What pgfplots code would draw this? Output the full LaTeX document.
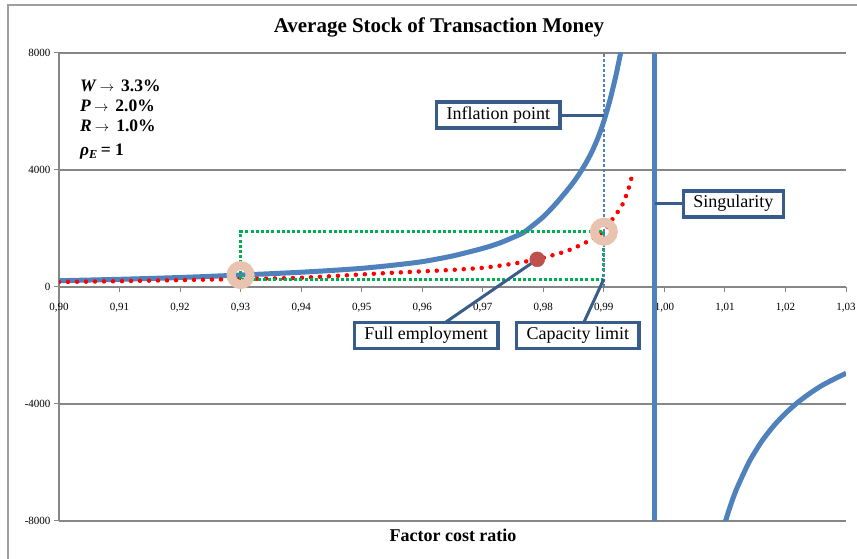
\documentclass[border=0pt]{standalone}
\usepackage{pgfplots}
\pgfplotsset{compat=1.18}
\usepackage{fontspec}
\setmainfont{Liberation Serif}
\definecolor{xblue}{RGB}{79,129,189}
\definecolor{xdark}{RGB}{56,93,138}
\definecolor{xgreen}{RGB}{0,176,80}
\definecolor{xred}{RGB}{192,80,77}
\definecolor{xgrid}{RGB}{134,134,134}
\definecolor{xring}{RGB}{232,196,176}
\newcommand{\arr}{\hspace{3pt}{\fontsize{14}{14}\selectfont$\rightarrow$}\hspace{7pt}}
\begin{document}
\begin{tikzpicture}[x=1pt,y=1pt,
  callout/.style={draw=xdark, line width=3.5pt, fill=white, inner xsep=10pt, inner ysep=5pt,
    text height=12pt, text depth=4pt, font=\fontsize{18}{20}\selectfont}]
\useasboundingbox (0,0) rectangle (857,559);
\draw[xgrid!80, line width=1.2pt] (8,0) -- (8,554) -- (857,554);
\node[anchor=base, font=\fontsize{21}{24}\selectfont\bfseries] at (439,526) {Average Stock of Transaction Money};
\node[anchor=base, font=\fontsize{18}{21}\selectfont\bfseries] at (453,17) {Factor cost ratio};
\begin{scope}[font=\fontsize{17.5}{20}\selectfont\bfseries]
\node[anchor=base west, inner sep=0pt] at (80,467) {\textit{W}\arr3.3\%};
\node[anchor=base west, inner sep=0pt] at (80,447) {\textit{P}\arr2.0\%};
\node[anchor=base west, inner sep=0pt] at (80,427) {\textit{R}\arr1.0\%};
\node[anchor=base west, inner sep=0pt] at (80,403) {\textit{ρ}\textsubscript{\textit{E}}\,= 1};
\end{scope}
\begin{axis}[at={(59pt,38pt)}, anchor=south west, scale only axis,
  width=787pt, height=468pt,
  xmin=0.90, xmax=1.03, ymin=-8000, ymax=8000,
  axis x line*=middle, axis y line*=left,
  hide obscured x ticks=false, hide obscured y ticks=false,
  xtick={0.90,0.91,0.92,0.93,0.94,0.95,0.96,0.97,0.98,0.99,1.00,1.01,1.02,1.03},
  ytick={-8000,-4000,0,4000,8000},
  ymajorgrids, grid style={xgrid, line width=1.8pt},
  axis line style={xgrid, line width=1.8pt},
  tick style={xgrid, line width=1pt},
  tick align=outside, major tick length=5pt,
  /pgf/number format/assume math mode=true,
  x tick label style={yshift=-8pt, /pgf/number format/.cd, fixed, fixed zerofill, precision=2, use comma},
  y tick label style={/pgf/number format/.cd, fixed, precision=0, 1000 sep={}},
  tick label style={font=\fontsize{11}{12}\selectfont},
  clip=true,
]
% main curve, left branch
\addplot[xblue, line width=5pt, smooth, tension=0.4] coordinates {
(0.900,215) (0.905,238) (0.910,263) (0.915,292) (0.920,325) (0.925,365)
(0.930,410) (0.935,455) (0.940,505) (0.945,565) (0.950,638) (0.955,740)
(0.960,866) (0.965,1060) (0.970,1320) (0.973,1520) (0.9765,1835) (0.978,2060)
(0.980,2400) (0.982,2830) (0.984,3320) (0.985,3585) (0.986,3885) (0.987,4225)
(0.988,4615) (0.989,5085) (0.990,5665) (0.991,6385) (0.992,7235) (0.993,8235) (0.9935,8750)};
% main curve, right branch
\addplot[xblue, line width=5pt, smooth, tension=0.4] coordinates {
(1.009,-8840) (1.010,-8070) (1.011,-7420) (1.012,-6870) (1.014,-5980)
(1.016,-5300) (1.018,-4760) (1.020,-4320) (1.022,-3950) (1.024,-3640)
(1.026,-3370) (1.028,-3150) (1.030,-2950)};
% red dotted curve
\addplot[red, line width=4.5pt, line cap=round, dash pattern=on 0pt off 9pt, smooth, tension=0.4] coordinates {
(0.900,170) (0.905,185) (0.910,200) (0.915,218) (0.920,235) (0.925,255)
(0.930,270) (0.935,290) (0.940,315) (0.945,370) (0.950,430) (0.955,485)
(0.960,535) (0.965,585) (0.970,655) (0.973,735) (0.976,830) (0.979,946)
(0.981,1055) (0.984,1240) (0.987,1520) (0.990,1890) (0.991,2200) (0.992,2480)
(0.993,2790) (0.9936,3080) (0.9941,3370) (0.9944,3600) (0.9948,3920)};
% green dotted rectangle
\addplot[xgreen, line width=3pt, dash pattern=on 3pt off 2.2pt] coordinates {
(0.93,273) (0.93,1890) (0.99,1890) (0.99,273) (0.93,273)};
% thin dashed vertical at 0.99
\addplot[xblue, line width=1.5pt, dash pattern=on 3pt off 2pt] coordinates {(0.990,0) (0.990,8000)};
% singularity vertical line
\addplot[xblue, line width=4.5pt] coordinates {(0.9984,-8000) (0.9984,8000)};
% callouts
\draw[xdark, line width=3pt] (axis cs:0.97256,5880) -- (axis cs:0.990,5880);
\node[callout] at (axis cs:0.97256,5880) {Inflation point};
\draw[xdark, line width=3pt] (axis cs:1.0114,2838) -- (axis cs:0.9984,2838);
\node[callout] at (axis cs:1.0114,2838) {Singularity};
\draw[xdark, line width=3pt] (axis cs:0.96066,-1660) -- (axis cs:0.979,946);
\node[callout] at (axis cs:0.96066,-1660) {Full employment};
\draw[xdark, line width=3pt] (axis cs:0.9857,-1660) -- (axis cs:0.990,273);
\node[callout] at (axis cs:0.9857,-1660) {Capacity limit};
% markers
\addplot[only marks, mark=*, mark size=7.5pt, mark options={fill=xred, draw=xred}] coordinates {(0.979,946)};
\addplot[only marks, mark=o, mark size=9.5pt, mark options={draw=xring, line width=9pt}] coordinates {(0.93,410) (0.99,1890)};
\end{axis}
\end{tikzpicture}
\end{document}
